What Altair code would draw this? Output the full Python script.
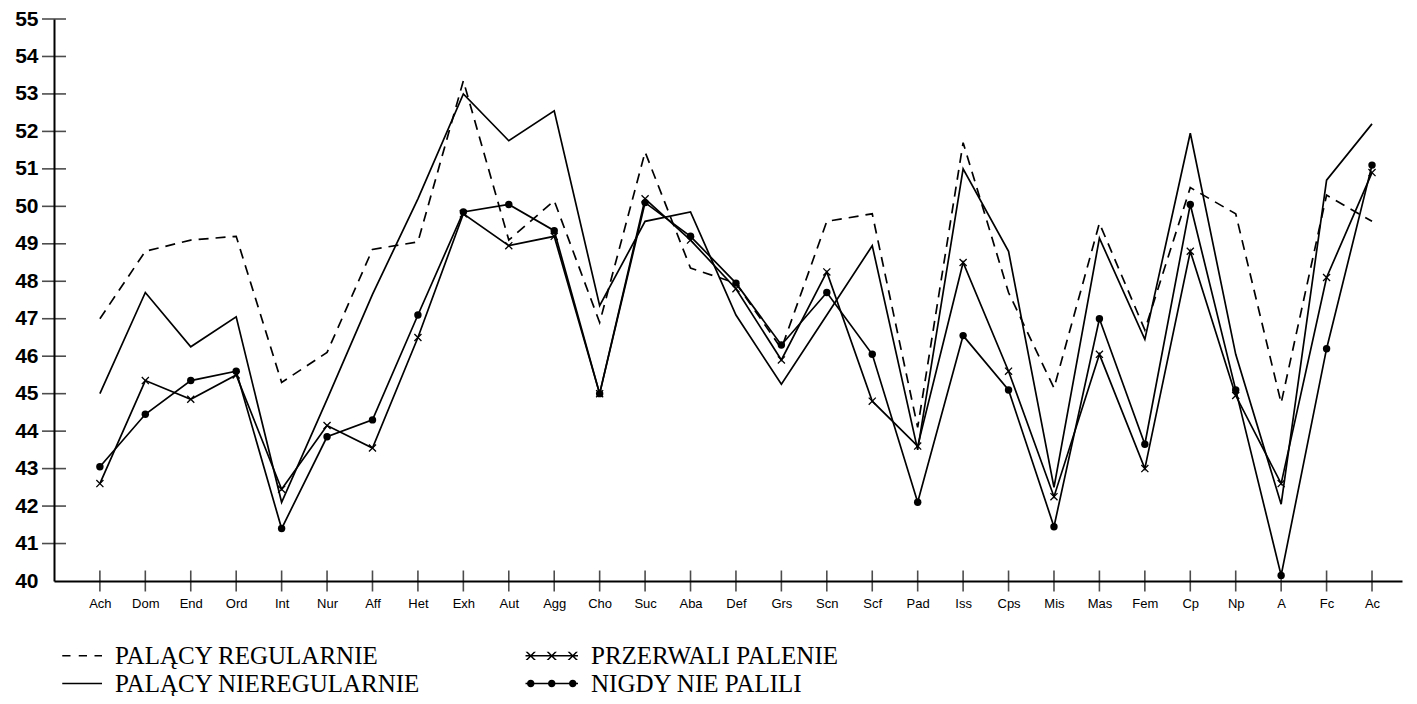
import json
import altair as alt
import pandas as pd

categories = ["Ach", "Dom", "End", "Ord", "Int", "Nur", "Aff", "Het", "Exh", "Aut",
              "Agg", "Cho", "Suc", "Aba", "Def", "Grs", "Scn", "Scf", "Pad", "Iss",
              "Cps", "Mis", "Mas", "Fem", "Cp", "Np", "A", "Fc", "Ac"]

regularnie = [47.0, 48.8, 49.1, 49.2, 45.3, 46.1, 48.85, 49.05, 53.35, 49.1,
              50.15, 46.9, 51.45, 48.35, 47.95, 46.2, 49.6, 49.8, 44.1, 51.7,
              47.7, 45.15, 49.55, 46.7, 50.5, 49.8, 44.75, 50.3, 49.6]
nieregularnie = [45.0, 47.7, 46.25, 47.05, 42.1, 44.85, 47.65, 50.2, 53.0, 51.75,
                 52.55, 47.35, 49.6, 49.85, 47.1, 45.25, 47.1, 48.95, 43.5, 51.0,
                 48.8, 42.5, 49.15, 46.45, 51.95, 46.05, 42.05, 50.7, 52.2]
przerwali = [42.6, 45.35, 44.85, 45.5, 42.45, 44.15, 43.55, 46.5, 49.8, 48.95,
             49.2, 45.0, 50.2, 49.1, 47.8, 45.9, 48.25, 44.8, 43.6, 48.5,
             45.6, 42.25, 46.05, 43.0, 48.8, 44.95, 42.6, 48.1, 50.9]
nigdy = [43.05, 44.45, 45.35, 45.6, 41.4, 43.85, 44.3, 47.1, 49.85, 50.05,
         49.35, 45.0, 50.1, 49.2, 47.95, 46.3, 47.7, 46.05, 42.1, 46.55,
         45.1, 41.45, 47.0, 43.65, 50.05, 45.1, 40.15, 46.2, 51.1]

series_names = ["PALĄCY REGULARNIE", "PALĄCY NIEREGULARNIE",
                "PRZERWALI PALENIE", "NIGDY NIE PALILI"]
y_ticks = list(range(40, 56))

rows = []
for name, vals in zip(series_names, [regularnie, nieregularnie, przerwali, nigdy]):
    for i, (c, v) in enumerate(zip(categories, vals)):
        rows.append({"series": name, "idx": i, "cat": c, "value": v})
df = pd.DataFrame(rows)

x_domain = [-1.01, 28.66]
x_scale = alt.Scale(domain=x_domain, nice=False, zero=False)
y_scale = alt.Scale(domain=[y_ticks[0], y_ticks[-1]], nice=False, zero=False)

label_expr = json.dumps(categories) + "[datum.value] || ''"

x_axis = alt.Axis(values=list(range(len(categories))), labelExpr=label_expr,
                  ticks=False, tickSize=0, grid=False, domainColor="black",
                  domainWidth=2, labelFont="Liberation Sans", labelFontSize=13,
                  labelColor="black", labelPadding=16, title=None,
                  labelOverlap=False, labelFlush=False)
y_axis = alt.Axis(values=y_ticks, ticks=False, tickSize=0, grid=False,
                  domainColor="black", domainWidth=2, labelFont="Liberation Sans",
                  labelFontSize=21, labelFontWeight="bold", labelColor="black",
                  labelPadding=16, title=None, labelOverlap=False, labelFlush=False)

X = alt.X("idx:Q", scale=x_scale, axis=x_axis)
Y = alt.Y("value:Q", scale=y_scale, axis=y_axis)

X_PATH = "M-1,-1L1,1M-1,1L1,-1"

base = alt.Chart(df)

dashed_line = base.transform_filter(alt.datum.series == series_names[0]).mark_line(
    color="black", strokeWidth=1.7, strokeDash=[10, 7]
).encode(x=X, y=Y)

solid_lines = base.transform_filter(alt.datum.series != series_names[0]).mark_line(
    color="black", strokeWidth=1.7
).encode(x=X, y=Y, detail="series:N")

xpts = base.transform_filter(alt.datum.series == series_names[2]).mark_point(
    shape=X_PATH, filled=False, color="black", size=50, strokeWidth=1.3, opacity=1
).encode(x=X, y=Y)

dots = base.transform_filter(alt.datum.series == series_names[3]).mark_circle(
    color="black", size=55, opacity=1
).encode(x=X, y=Y)

# legend symbols are filled outlines (all drawn clockwise)
T = 0.1  # half line thickness in symbol units


def seg(x0, x1):
    return "M%g,%gH%gV%gH%gZ" % (x0, -T, x1, T, x0)


def cross(cx, h=0.55, d=0.14):
    a = "M%g,%gL%g,%gL%g,%gL%g,%gZ" % (cx - h - d, -h, cx - h + d, -h,
                                       cx + h + d, h, cx + h - d, h)
    b = "M%g,%gL%g,%gL%g,%gL%g,%gZ" % (cx + h - d, -h, cx + h + d, -h,
                                       cx - h + d, h, cx - h - d, h)
    return a + b


def dot(cx, r=0.5):
    return "M%g,0A%g,%g 0 1,1 %g,0A%g,%g 0 1,1 %g,0Z" % (cx - r, r, r, cx + r, r, r, cx - r)


dash_path = seg(-4.3, -3.2) + seg(-2.1, -1.0) + seg(0, 1)
solid_path = seg(-4.3, 1)
xline_path = seg(-6, 1) + cross(-5.3) + cross(-2.5) + cross(0.3)
dot_path = seg(-6, 1) + dot(-5.3) + dot(-2.5) + dot(0.3)

# legend fills column by column: column 1 = first two, column 2 = last two
legend_order = series_names
legend_paths = [dash_path, solid_path, xline_path, dot_path]

legend_layer = base.mark_point(opacity=0, filled=True, color="black").encode(
    x=X, y=Y,
    shape=alt.Shape("series:N",
                    scale=alt.Scale(domain=legend_order, range=legend_paths),
                    legend=alt.Legend(title=None, orient="none", legendX=28, legendY=624,
                                      columns=2, symbolSize=225, symbolStrokeWidth=1,
                                      symbolFillColor="black", symbolStrokeColor="black",
                                      symbolOpacity=1, labelFont="Liberation Serif",
                                      labelFontSize=25, labelColor="black", labelLimit=0,
                                      labelOffset=8, rowPadding=2, columnPadding=102,
                                      padding=0)),
)

xt_df = pd.DataFrame({"idx": list(range(len(categories))),
                      "value": [y_ticks[0]] * len(categories)})
yt_df = pd.DataFrame({"idx": [x_domain[0]] * (len(y_ticks) - 1), "value": y_ticks[1:]})

xticks = alt.Chart(xt_df).mark_tick(orient="vertical", color="black", size=21,
                                    thickness=1.6).encode(x=X, y=Y)
yticks = alt.Chart(yt_df).mark_tick(orient="horizontal", color="black", size=24,
                                    thickness=1.6).encode(x=X, y=Y)

chart = alt.layer(dashed_line, solid_lines, xpts, dots, legend_layer, xticks, yticks).properties(
    width=1348, height=562,
    autosize=alt.AutoSizeParams(type="none"),
    padding={"left": 46, "top": 11, "right": 5, "bottom": 115},
).configure_view(stroke=None)

chart.save("out.html", embed_options={"renderer": "svg", "actions": False})
